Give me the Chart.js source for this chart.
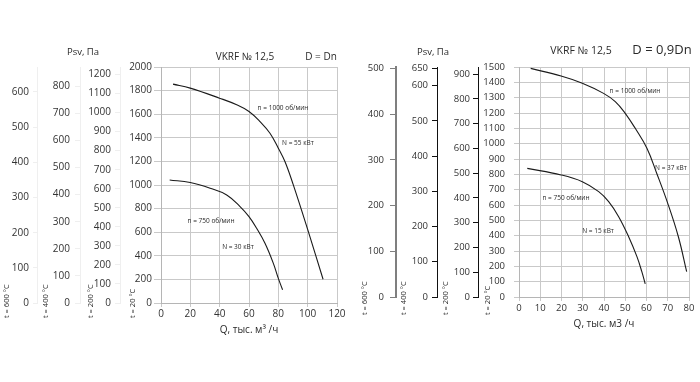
<!DOCTYPE html>
<html><head><meta charset="utf-8">
<script src="https://cdn.jsdelivr.net/npm/chart.js@4/dist/chart.umd.min.js"></script>
<style>
html,body{margin:0;padding:0;background:#fff;}
#wrap{position:relative;width:700px;height:382px;overflow:hidden;}
.pane{position:absolute;top:0;width:350px;height:382px;}
</style></head><body>
<div id="wrap">
<div class="pane" style="left:0"><canvas id="c1" width="350" height="382"></canvas></div>
<div class="pane" style="left:350px"><canvas id="c2" width="350" height="382"></canvas></div>
</div>
<script>
// ---------- DATA: left panel (D = Dn) ----------
const leftQ1000 = [8.2, 19.9, 39.9, 51.6, 60, 67.5, 74.3, 80, 84.5, 90.1, 100.1, 110.5];
const leftP1000 = [1855, 1821, 1736, 1680, 1623, 1538, 1439, 1312, 1199, 1005, 619, 201];
const leftQ750  = [5.9, 19.9, 33.5, 44.8, 53.9, 60, 65.2, 70.9, 76.6, 80, 82.9];
const leftP750  = [1043, 1021, 973, 916, 817, 732, 633, 506, 336, 209, 112];
const leftXTicks   = [0, 20, 40, 60, 80, 100, 120];
const leftTicks20  = [0, 200, 400, 600, 800, 1000, 1200, 1400, 1600, 1800, 2000];
const leftTicks200 = [0, 100, 200, 300, 400, 500, 600, 700, 800, 900, 1000, 1100, 1200];
const leftTicks400 = [0, 100, 200, 300, 400, 500, 600, 700, 800];
const leftTicks600 = [0, 100, 200, 300, 400, 500, 600];
const leftAxisMax  = [2000, 1239, 871, 671];   // 20, 200, 400, 600 °C

// ---------- DATA: right panel (D = 0,9Dn) ----------
const rightQ1000 = [5.5, 19.8, 29.8, 39.8, 45.3, 50, 54.7, 60.2, 64.8, 70, 75, 78.9];
const rightP1000 = [1491, 1441, 1394, 1328, 1274, 1198, 1100, 970, 807, 611, 393, 165];
const rightQ750  = [3.9, 19.8, 29.8, 37.5, 42.2, 46.9, 51.6, 55.5, 57.8, 59.4];
const rightP750  = [839, 796, 752, 687, 622, 524, 393, 263, 165, 85];
const rightXTicks   = [0, 10, 20, 30, 40, 50, 60, 70, 80];
const rightTicks20  = [0, 100, 200, 300, 400, 500, 600, 700, 800, 900, 1000, 1100, 1200, 1300, 1400, 1500];
const rightTicks200 = [0, 100, 200, 300, 400, 500, 600, 700, 800, 900];
const rightTicks400 = [0, 100, 200, 300, 400, 500, 600, 650];
const rightTicks600 = [0, 100, 200, 300, 400, 500];
const rightAxisMax  = [1500, 929, 653, 503];

const tempLabels = ['t = 20 °C', 't = 200 °C', 't = 400 °C', 't = 600 °C'];

const FONT = '"Open Sans", "DejaVu Sans", sans-serif';

function pts(xs, ys){ return xs.map((x,i)=>({x:x, y:ys[i]})); }

function ds(xs, ys){
  return {data: pts(xs, ys), borderColor:'#1a1a1a', borderWidth:1.1, pointRadius:0,
          fill:false, tension:0.4};
}

const plainNum = v => String(v);

function yAxis(o){
  return {
    type:'linear', position:'left', weight:o.weight, min:0, max:o.max,
    afterBuildTicks: s => { s.ticks = o.ticks.map(v=>({value:v})); },
    afterFit: s => { s.width = o.width; },
    grid: {drawOnChartArea: !!o.main, drawTicks:true, tickLength:o.tl, color:o.gridColor, lineWidth:1},
    border: {display:true, color:o.borderColor, width:o.borderWidth},
    ticks: {padding:o.pad, color:'#333333', font:{family:FONT, size:o.fs}, callback:plainNum}
  };
}

const textPlugin = {
  id:'panelText',
  afterDraw(chart, args, opts){
    const ctx = chart.ctx;
    for (const t of (opts.texts||[])) {
      ctx.save();
      ctx.font = t.size + 'px ' + FONT;
      ctx.fillStyle = t.color || '#2a2a2a';
      ctx.textAlign = t.align || 'center';
      ctx.textBaseline = 'middle';
      let x = t.x, y = t.y;
      if (t.data) { x = chart.scales.x.getPixelForValue(t.x); y = chart.scales.y.getPixelForValue(t.y); }
      ctx.translate(x, y);
      if (t.rot) ctx.rotate(t.rot);
      ctx.fillText(t.text, 0, 0);
      ctx.restore();
    }
  }
};

function makeChart(id, cfg){
  return new Chart(document.getElementById(id), {
    type:'line',
    data:{datasets:[ds(cfg.q1, cfg.p1), ds(cfg.q2, cfg.p2)]},
    plugins:[textPlugin],
    options:{
      responsive:false, animation:false, events:[],
      layout:{padding:cfg.padding},
      plugins:{legend:{display:false}, tooltip:{enabled:false}, panelText:{texts:cfg.texts}},
      scales:{
        x:{type:'linear', min:0, max:cfg.xMax,
           afterBuildTicks: s => { s.ticks = cfg.xTicks.map(v=>({value:v})); },
           afterFit: s => { s.height = 33; },
           grid:{color:'#c9c9c9', tickLength:cfg.xTl, lineWidth:1},
           border:{color:'#b5b5b5'},
           ticks:{padding:cfg.xPad, color:'#333333', maxRotation:0, font:{family:FONT, size:cfg.fs}, callback:plainNum},
           title:{display:true, text:cfg.xTitle, padding:0, color:'#2a2a2a', font:{family:FONT, size:10}}},
        y: yAxis(cfg.axes[0]),
        y200: yAxis(cfg.axes[1]),
        y400: yAxis(cfg.axes[2]),
        y600: yAxis(cfg.axes[3])
      }
    }
  });
}

const R90 = -Math.PI/2;

makeChart('c1', {
  q1:leftQ1000, p1:leftP1000, q2:leftQ750, p2:leftP750,
  xMax:120, xTicks:leftXTicks, xTl:4, xPad:1, fs:10,
  xTitle:'Q, тыс. м³ /ч',
  padding:{left:0, right:13, top:67, bottom:46},
  axes:[
    {weight:0, main:true, max:leftAxisMax[0], ticks:leftTicks20, width:41, tl:7, pad:2, gridColor:'#c9c9c9', borderColor:'#b5b5b5', borderWidth:1, fs:10},
    {weight:1, max:leftAxisMax[1], ticks:leftTicks200, width:40, tl:5, pad:4, gridColor:'#efefef', borderColor:'#efefef', borderWidth:1, fs:10},
    {weight:2, max:leftAxisMax[2], ticks:leftTicks400, width:43, tl:5, pad:5, gridColor:'#efefef', borderColor:'#efefef', borderWidth:1, fs:10},
    {weight:3, max:leftAxisMax[3], ticks:leftTicks600, width:37, tl:4, pad:4, gridColor:'#efefef', borderColor:'#efefef', borderWidth:1, fs:10}
  ],
  texts:[
    {text:'Psv, Па', x:83, y:52, size:9.5},
    {text:'VKRF № 12,5', x:245, y:57, size:10},
    {text:'D = Dn', x:321, y:57, size:10},
    {text:tempLabels[3], x:7, y:318, size:7.5, rot:R90, align:'left'},
    {text:tempLabels[2], x:46, y:318, size:7.5, rot:R90, align:'left'},
    {text:tempLabels[1], x:91, y:318, size:7.5, rot:R90, align:'left'},
    {text:tempLabels[0], x:133, y:318, size:7.5, rot:R90, align:'left'},
    {text:'n = 1000 об/мин', data:true, x:83.2, y:1653, size:6.5},
    {text:'N = 55 кВт', data:true, x:93.4, y:1356, size:6.5},
    {text:'n = 750 об/мин', data:true, x:34.1, y:695, size:6.5},
    {text:'N = 30 кВт', data:true, x:52.5, y:475, size:6.5}
  ]
});

makeChart('c2', {
  q1:rightQ1000, p1:rightP1000, q2:rightQ750, p2:rightP750,
  xMax:80, xTicks:rightXTicks, xTl:4, xPad:2, fs:9.5,
  xTitle:'Q, тыс. м3 /ч',
  padding:{left:0, right:11, top:67, bottom:52},
  axes:[
    {weight:0, main:true, max:rightAxisMax[0], ticks:rightTicks20, width:41, tl:5, pad:9, gridColor:'#c9c9c9', borderColor:'#b5b5b5', borderWidth:1, fs:9.5},
    {weight:1, max:rightAxisMax[1], ticks:rightTicks200, width:41, tl:5, pad:3, gridColor:'#111111', borderColor:'#111111', borderWidth:1, fs:9.5},
    {weight:2, max:rightAxisMax[2], ticks:rightTicks400, width:41, tl:5, pad:4, gridColor:'#111111', borderColor:'#111111', borderWidth:1, fs:9.5},
    {weight:3, max:rightAxisMax[3], ticks:rightTicks600, width:46, tl:6, pad:6, gridColor:'#7f7f7f', borderColor:'#7f7f7f', borderWidth:2, fs:9.5}
  ],
  texts:[
    {text:'Psv, Па', x:83, y:52, size:9.5},
    {text:'VKRF № 12,5', x:231, y:51, size:10.5},
    {text:'D = 0,9Dn', x:312, y:50, size:13},
    {text:tempLabels[3], x:15, y:315, size:7.5, rot:R90, align:'left'},
    {text:tempLabels[2], x:54, y:315, size:7.5, rot:R90, align:'left'},
    {text:tempLabels[1], x:96, y:315, size:7.5, rot:R90, align:'left'},
    {text:tempLabels[0], x:138, y:315, size:7.5, rot:R90, align:'left'},
    {text:'n = 1000 об/мин', data:true, x:54.6, y:1343, size:6.5},
    {text:'N = 37 кВт', data:true, x:71.5, y:841, size:6.5},
    {text:'n = 750 об/мин', data:true, x:22.1, y:645, size:6.5},
    {text:'N = 15 кВт', data:true, x:37.2, y:430, size:6.5}
  ]
});
</script>
</body></html>
